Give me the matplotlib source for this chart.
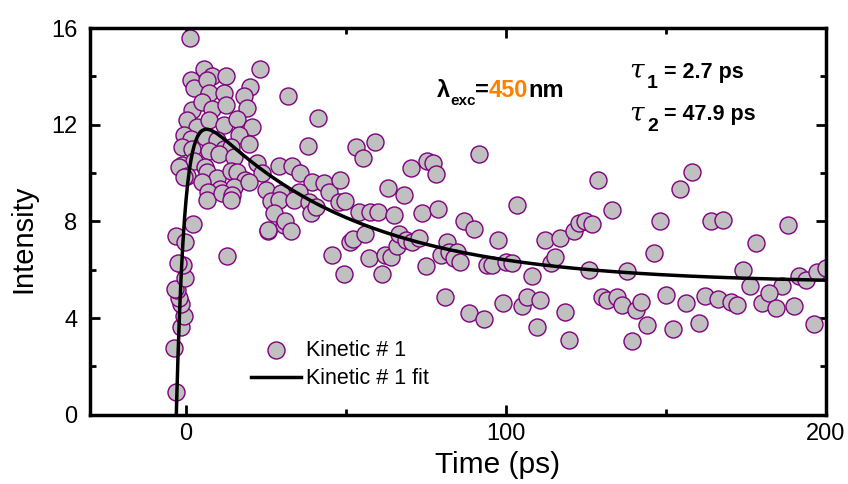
import numpy as np
import matplotlib
matplotlib.use("Agg")
import matplotlib.pyplot as plt
from matplotlib.ticker import MultipleLocator

plt.rcParams['font.family'] = ['Liberation Sans', 'DejaVu Sans']

# measured kinetic trace (time in ps, intensity)
time_ps = [
    -3.2, -3.75, -1.5, -0.6, -1.5, -2.2, -2.7, -3.4, -0.3, -0.9, -2.4, -3.0, -0.3, 2.3, 12.9,
    1.2, 23, 5.6, 8.2, 12.4, 1.7, 2.5, 6.7, 7.2, 11.9, 19.9, 18.1, 2, 5.1, 8.2, 12.4, 19.2,
    0.4, 3.5, 7.2, 11.9, 16, 20.7, -0.6, 1.5, 6.1, 9.8, 16.6, 19.7, -1.2, 2, 7.2, 11.9, 14,
    -1.2, 2.5, 6.1, 10.3, 15, 22.3, -2.2, 0.4, 6.7, 9.8, 14, 16, 18.6, 23.8,
    -0.6, 5.1, 10.8, 15, 19.7, 24.9, 29.6, 7, 6.7, 11.3, 14.5, 26.7, 29, 27.5, 14, 25.6, 30.6,
    31.9, 41.2, 38.1, 53.1, 55.2, 59, 70.2, 75.4, 77.2, 78, 29, 33.3,
    35.7, 39.4, 43, 44.7, 48.3, 47.8, 49.6, 54.2, 57.4, 60.1, 65.1, 73.85, 78.8,
    35.3, 33.8, 38.4, 39, 40.5, 31.1, 32.7, 25.6,
    45.5, 49.4, 51.2, 52.3, 56.1, 57.2, 61.2, 62.2, 64, 66, 66.5, 68.7, 70.8, 72.8, 74.9,
    63.2, 68.1, 86.9, 90, 91.6, 103.5, 81.7, 97.6, 112.2, 116.8, 121.3, 122.8, 124.7,
    79.6, 82.2, 84.8, 83.8, 85.8, 94.2, 95.7, 99.9, 102, 108, 114, 115.3,
    80.9, 88.6, 93.1, 99.1, 105.1, 106.7, 110.8, 109.6, 118.4, 119.7,
    128.9, 133, 127, 146.3, 148, 154.3, 158.2, 164, 167.9, 178.2, 188.1,
    125.9, 137.9, 174.1, 176.3, 186.2, 191.6, 193.8, 197.3,
    130.1, 131.7, 134.8, 136.2, 140.5, 142.1, 144.2, 150.1, 152.2, 156.2, 160.3, 162.2,
    166.3, 170.2, 172.3, 180.1, 182.2, 184.3, 190, 139.3, 196.3, 200,
]
intensity = [
    0.96, 2.78, 3.64, 4.1, 4.6, 4.85, 5.17, 5.2, 5.65, 6.2, 6.27, 7.4, 7.16, 7.88, 6.57,
    15.57, 14.3, 14.3, 14.0, 14.0, 13.84, 13.5, 13.84, 13.3, 13.3, 13.57, 13.2, 12.6, 12.95, 12.67, 12.8, 12.7,
    12.2, 11.9, 12.2, 12.0, 12.25, 11.9, 11.57, 11.4, 11.5, 11.36, 11.57, 11.2, 11.1, 11.0, 10.9, 11.0, 11.1,
    10.33, 10.5, 10.26, 10.8, 10.67, 10.4, 10.26, 9.9, 10.05, 9.78, 10.1, 10.05, 9.7, 10.0,
    9.85, 9.64, 9.36, 9.43, 9.64, 9.3, 9.16, 9.23, 8.88, 9.16, 9.09, 8.85, 8.88, 8.33, 8.9, 7.6, 7.85,
    13.2, 12.3, 11.13, 11.08, 10.63, 11.3, 10.2, 10.5, 10.43, 9.98, 10.28, 10.3,
    10.0, 9.64, 9.6, 9.23, 9.72, 8.8, 8.85, 8.38, 8.4, 8.38, 8.26, 8.35, 8.5,
    9.2, 8.88, 8.8, 8.33, 8.6, 8.0, 7.6, 7.64,
    6.62, 5.84, 7.13, 7.27, 7.48, 6.5, 5.84, 6.63, 6.54, 6.98, 7.47, 7.23, 7.16, 7.33, 6.15,
    9.38, 9.1, 8.0, 7.7, 10.8, 8.68, 7.16, 7.23, 7.23, 7.3, 7.6, 7.92, 8.0,
    6.6, 6.75, 6.75, 6.47, 6.33, 6.2, 6.2, 6.33, 6.27, 5.74, 6.27, 6.54,
    4.86, 4.23, 3.95, 4.64, 4.5, 4.86, 4.75, 3.62, 4.27, 3.1,
    9.7, 8.47, 7.88, 6.68, 8.0, 9.33, 10.05, 8.03, 8.06, 7.12, 7.85,
    6.0, 5.96, 6.0, 5.33, 5.33, 5.74, 5.58, 5.92,
    4.86, 4.75, 4.89, 4.55, 4.34, 4.68, 3.72, 4.96, 3.54, 4.64, 3.81, 4.92,
    4.78, 4.68, 4.55, 4.61, 5.03, 4.41, 4.5, 3.07, 3.76, 6.07,
]

# fit parameters
tau1 = 2.7    # ps, rise
tau2 = 47.9   # ps, decay
t_zero = -3.0
offset = 5.45
amp = 8.2

t_fit = np.linspace(t_zero, 200, 800)
dt = t_fit - t_zero
y_fit = (1 - np.exp(-dt / tau1)) * (offset + amp * np.exp(-dt / tau2))

fig = plt.figure(figsize=(8.48, 4.84), dpi=100)
ax = fig.add_axes((0.106, 0.143, 0.868, 0.799))

ax.scatter(time_ps, intensity, s=150, facecolor='#c0c0c0', edgecolor='#800080',
           linewidth=1.0, zorder=2, label='Kinetic # 1')
ax.plot(t_fit, y_fit, color='black', lw=2.5, zorder=3, label='Kinetic # 1 fit')

ax.set_xlim(-30, 200)
ax.set_ylim(0, 16)
ax.xaxis.set_major_locator(MultipleLocator(100))
ax.xaxis.set_minor_locator(MultipleLocator(50))
ax.yaxis.set_major_locator(MultipleLocator(4))
ax.yaxis.set_minor_locator(MultipleLocator(2))
ax.tick_params(which='both', direction='in', top=True, right=True, width=2,
               labelsize=17)
ax.tick_params(axis='x', pad=6)
ax.tick_params(axis='y', pad=9)
ax.tick_params(which='major', length=7)
ax.tick_params(which='minor', length=4)
for s in ax.spines.values():
    s.set_linewidth(2.5)

ax.set_xlabel('Time (ps)', fontsize=21.5)
ax.set_ylabel('Intensity', fontsize=21)
ax.xaxis.set_label_coords(0.554, -0.093)
ax.yaxis.set_label_coords(-0.071, 0.455)

ax.legend(loc='center', bbox_to_anchor=(0.34, 0.13), frameon=False,
          fontsize=15.5, handlelength=2.3, handletextpad=0.25,
          labelspacing=0.35, scatterpoints=1)

# excitation wavelength
tr = ax.transAxes
ax.text(0.472, 0.822, 'λ', transform=tr, fontsize=17, fontweight='bold',
        va='baseline')
ax.text(0.490, 0.800, 'exc', transform=tr, fontsize=11, fontweight='bold',
        va='baseline')
ax.text(0.523, 0.822, '=', transform=tr, fontsize=17, fontweight='bold',
        va='baseline')
ax.text(0.542, 0.822, '450', transform=tr, fontsize=17, fontweight='bold',
        va='baseline', color='#ff8000')
ax.text(0.596, 0.822, 'nm', transform=tr, fontsize=17, fontweight='bold',
        va='baseline')

# fitted lifetimes
for yy, sub, val in [(0.871, '1', '= 2.7 ps'), (0.762, '2', '= 47.9 ps')]:
    ax.text(0.733, yy, 'τ', transform=tr, fontsize=19, family='DejaVu Serif',
            style='italic', va='baseline')
    ax.text(0.757, yy - 0.027, sub, transform=tr, fontsize=14, fontweight='bold',
            va='baseline')
    ax.text(0.780, yy, val, transform=tr, fontsize=15.5, fontweight='bold',
            va='baseline')

fig.savefig('out.png', dpi=100)
